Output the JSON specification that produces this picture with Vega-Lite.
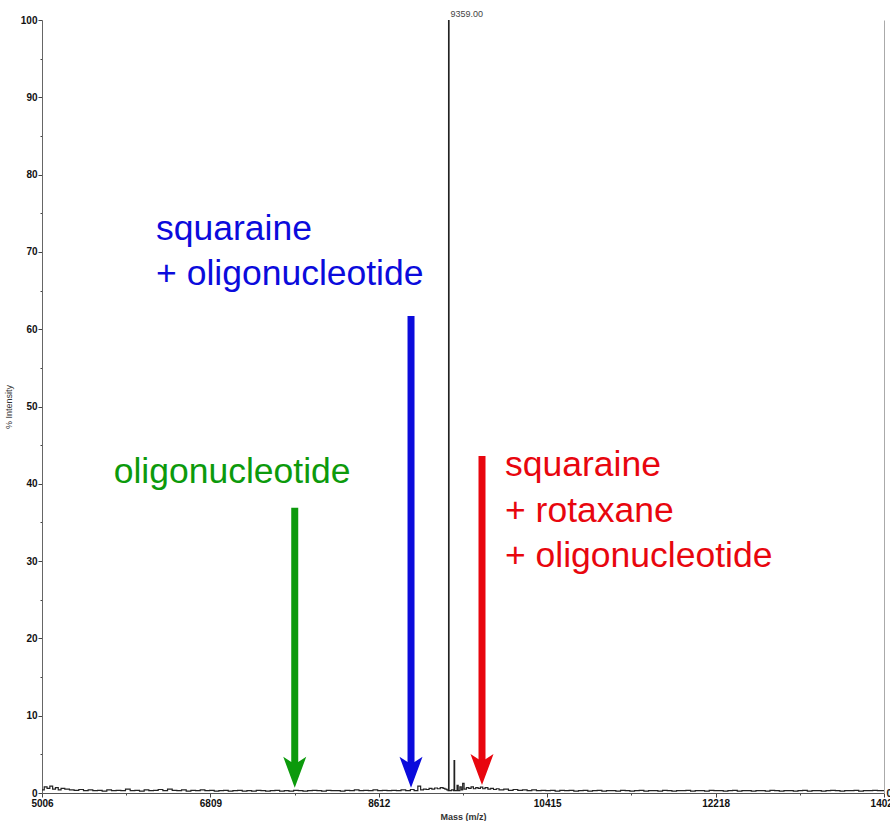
{
  "$schema": "https://vega.github.io/schema/vega-lite/v6.json",
  "width": 842,
  "height": 773,
  "autosize": {"type": "none"},
  "padding": {"left": 42, "top": 20, "right": 6, "bottom": 28},
  "background": "white",
  "config": {
    "view": {"stroke": null},
    "font": "Liberation Sans"
  },
  "datasets": {
    "spectrum": [
      {"mz": 5006, "pct": 0.4}, {"mz": 5030, "pct": 0.8}, {"mz": 5060, "pct": 0.6}, {"mz": 5090, "pct": 0.9},
      {"mz": 5120, "pct": 0.5}, {"mz": 5150, "pct": 0.7}, {"mz": 5180, "pct": 0.4}, {"mz": 5210, "pct": 0.6},
      {"mz": 5250, "pct": 0.5}, {"mz": 5300, "pct": 0.4}, {"mz": 5350, "pct": 0.35}, {"mz": 5400, "pct": 0.45},
      {"mz": 5450, "pct": 0.3}, {"mz": 5500, "pct": 0.4}, {"mz": 5550, "pct": 0.3}, {"mz": 5600, "pct": 0.35},
      {"mz": 5650, "pct": 0.25}, {"mz": 5700, "pct": 0.4}, {"mz": 5750, "pct": 0.3}, {"mz": 5800, "pct": 0.35},
      {"mz": 5850, "pct": 0.3}, {"mz": 5900, "pct": 0.5}, {"mz": 5950, "pct": 0.3}, {"mz": 6000, "pct": 0.35},
      {"mz": 6050, "pct": 0.25}, {"mz": 6100, "pct": 0.4}, {"mz": 6150, "pct": 0.3}, {"mz": 6200, "pct": 0.35},
      {"mz": 6250, "pct": 0.45}, {"mz": 6300, "pct": 0.3}, {"mz": 6350, "pct": 0.5}, {"mz": 6400, "pct": 0.35},
      {"mz": 6450, "pct": 0.3}, {"mz": 6500, "pct": 0.4}, {"mz": 6550, "pct": 0.25}, {"mz": 6600, "pct": 0.35},
      {"mz": 6650, "pct": 0.3}, {"mz": 6700, "pct": 0.4}, {"mz": 6750, "pct": 0.3}, {"mz": 6800, "pct": 0.35},
      {"mz": 6850, "pct": 0.25}, {"mz": 6900, "pct": 0.3}, {"mz": 6950, "pct": 0.35}, {"mz": 7000, "pct": 0.25},
      {"mz": 7050, "pct": 0.3}, {"mz": 7100, "pct": 0.35}, {"mz": 7150, "pct": 0.25}, {"mz": 7200, "pct": 0.3},
      {"mz": 7250, "pct": 0.25}, {"mz": 7300, "pct": 0.35}, {"mz": 7350, "pct": 0.3}, {"mz": 7400, "pct": 0.25},
      {"mz": 7450, "pct": 0.3}, {"mz": 7500, "pct": 0.35}, {"mz": 7550, "pct": 0.25}, {"mz": 7600, "pct": 0.3},
      {"mz": 7650, "pct": 0.25}, {"mz": 7700, "pct": 0.35}, {"mz": 7750, "pct": 0.3}, {"mz": 7800, "pct": 0.25},
      {"mz": 7850, "pct": 0.3}, {"mz": 7900, "pct": 0.35}, {"mz": 7950, "pct": 0.3}, {"mz": 8000, "pct": 0.25},
      {"mz": 8050, "pct": 0.35}, {"mz": 8100, "pct": 0.3}, {"mz": 8150, "pct": 0.3}, {"mz": 8200, "pct": 0.25},
      {"mz": 8250, "pct": 0.35}, {"mz": 8300, "pct": 0.3}, {"mz": 8350, "pct": 0.4}, {"mz": 8400, "pct": 0.3},
      {"mz": 8450, "pct": 0.35}, {"mz": 8500, "pct": 0.3}, {"mz": 8550, "pct": 0.4}, {"mz": 8600, "pct": 0.3},
      {"mz": 8650, "pct": 0.35}, {"mz": 8700, "pct": 0.3}, {"mz": 8750, "pct": 0.35}, {"mz": 8800, "pct": 0.3},
      {"mz": 8850, "pct": 0.4}, {"mz": 8900, "pct": 0.3}, {"mz": 8950, "pct": 0.45}, {"mz": 8990, "pct": 0.3},
      {"mz": 9030, "pct": 0.9}, {"mz": 9060, "pct": 0.4}, {"mz": 9090, "pct": 0.5}, {"mz": 9120, "pct": 0.45},
      {"mz": 9150, "pct": 0.6}, {"mz": 9180, "pct": 0.5}, {"mz": 9210, "pct": 0.65}, {"mz": 9240, "pct": 0.55},
      {"mz": 9270, "pct": 0.7}, {"mz": 9300, "pct": 0.6}, {"mz": 9320, "pct": 0.5}, {"mz": 9340, "pct": 0.4},
      {"mz": 9354, "pct": 0.3}, {"mz": 9359, "pct": 100}, {"mz": 9364, "pct": 0.3}, {"mz": 9390, "pct": 0.4},
      {"mz": 9412, "pct": 0.3}, {"mz": 9418, "pct": 4.2}, {"mz": 9424, "pct": 0.3}, {"mz": 9450, "pct": 1.0},
      {"mz": 9462, "pct": 0.3}, {"mz": 9480, "pct": 0.8}, {"mz": 9495, "pct": 0.4}, {"mz": 9510, "pct": 1.25},
      {"mz": 9525, "pct": 0.5}, {"mz": 9550, "pct": 0.7}, {"mz": 9575, "pct": 0.6}, {"mz": 9600, "pct": 0.8},
      {"mz": 9625, "pct": 0.55}, {"mz": 9650, "pct": 0.7}, {"mz": 9675, "pct": 0.6}, {"mz": 9700, "pct": 0.75},
      {"mz": 9725, "pct": 0.55}, {"mz": 9750, "pct": 0.7}, {"mz": 9780, "pct": 0.5}, {"mz": 9810, "pct": 0.6},
      {"mz": 9840, "pct": 0.45}, {"mz": 9870, "pct": 0.55}, {"mz": 9900, "pct": 0.4}, {"mz": 9950, "pct": 0.5},
      {"mz": 10000, "pct": 0.35}, {"mz": 10050, "pct": 0.45}, {"mz": 10100, "pct": 0.35}, {"mz": 10150, "pct": 0.4},
      {"mz": 10200, "pct": 0.3}, {"mz": 10250, "pct": 0.4}, {"mz": 10300, "pct": 0.3}, {"mz": 10350, "pct": 0.35},
      {"mz": 10400, "pct": 0.3}, {"mz": 10450, "pct": 0.35}, {"mz": 10500, "pct": 0.25}, {"mz": 10550, "pct": 0.35},
      {"mz": 10600, "pct": 0.3}, {"mz": 10650, "pct": 0.35}, {"mz": 10700, "pct": 0.25}, {"mz": 10750, "pct": 0.3},
      {"mz": 10800, "pct": 0.35}, {"mz": 10850, "pct": 0.25}, {"mz": 10900, "pct": 0.3}, {"mz": 10950, "pct": 0.35},
      {"mz": 11000, "pct": 0.25}, {"mz": 11050, "pct": 0.3}, {"mz": 11100, "pct": 0.3}, {"mz": 11150, "pct": 0.25},
      {"mz": 11200, "pct": 0.35}, {"mz": 11250, "pct": 0.3}, {"mz": 11300, "pct": 0.25}, {"mz": 11350, "pct": 0.3},
      {"mz": 11400, "pct": 0.35}, {"mz": 11450, "pct": 0.25}, {"mz": 11500, "pct": 0.3}, {"mz": 11550, "pct": 0.3},
      {"mz": 11600, "pct": 0.25}, {"mz": 11650, "pct": 0.35}, {"mz": 11700, "pct": 0.3}, {"mz": 11750, "pct": 0.25},
      {"mz": 11800, "pct": 0.3}, {"mz": 11850, "pct": 0.3}, {"mz": 11900, "pct": 0.35}, {"mz": 11950, "pct": 0.25},
      {"mz": 12000, "pct": 0.3}, {"mz": 12050, "pct": 0.3}, {"mz": 12100, "pct": 0.25}, {"mz": 12150, "pct": 0.35},
      {"mz": 12200, "pct": 0.3}, {"mz": 12250, "pct": 0.3}, {"mz": 12300, "pct": 0.25}, {"mz": 12350, "pct": 0.3},
      {"mz": 12400, "pct": 0.35}, {"mz": 12450, "pct": 0.25}, {"mz": 12500, "pct": 0.3}, {"mz": 12550, "pct": 0.3},
      {"mz": 12600, "pct": 0.25}, {"mz": 12650, "pct": 0.3}, {"mz": 12700, "pct": 0.3}, {"mz": 12750, "pct": 0.25},
      {"mz": 12800, "pct": 0.35}, {"mz": 12850, "pct": 0.3}, {"mz": 12900, "pct": 0.25}, {"mz": 12950, "pct": 0.3},
      {"mz": 13000, "pct": 0.3}, {"mz": 13050, "pct": 0.25}, {"mz": 13100, "pct": 0.3}, {"mz": 13150, "pct": 0.35},
      {"mz": 13200, "pct": 0.25}, {"mz": 13250, "pct": 0.3}, {"mz": 13300, "pct": 0.3}, {"mz": 13350, "pct": 0.25},
      {"mz": 13400, "pct": 0.3}, {"mz": 13450, "pct": 0.35}, {"mz": 13500, "pct": 0.3}, {"mz": 13550, "pct": 0.25},
      {"mz": 13600, "pct": 0.3}, {"mz": 13650, "pct": 0.3}, {"mz": 13700, "pct": 0.35}, {"mz": 13750, "pct": 0.25},
      {"mz": 13800, "pct": 0.3}, {"mz": 13850, "pct": 0.3}, {"mz": 13900, "pct": 0.35}, {"mz": 13950, "pct": 0.3},
      {"mz": 14000, "pct": 0.3}, {"mz": 14021, "pct": 0.25}
    ],
    "peakLabel": [
      {"mz": 9359, "pct": 100, "label": "9359.00"}
    ],
    "arrows": [
      {"species": "oligonucleotide", "mz": 7712, "top": 36.9, "head": 2.68},
      {"species": "squaraine + oligonucleotide", "mz": 8957, "top": 61.7, "head": 2.68},
      {"species": "squaraine + rotaxane + oligonucleotide", "mz": 9717, "top": 43.6, "head": 3.03}
    ],
    "notes": [
      {"species": "oligonucleotide", "mz": 5774, "pct": 40.06, "text": "oligonucleotide"},
      {"species": "squaraine + oligonucleotide", "mz": 6227, "pct": 71.54, "text": "squaraine"},
      {"species": "squaraine + oligonucleotide", "mz": 6227, "pct": 65.72, "text": "+ oligonucleotide"},
      {"species": "squaraine + rotaxane + oligonucleotide", "mz": 9963, "pct": 41.01, "text": "squaraine"},
      {"species": "squaraine + rotaxane + oligonucleotide", "mz": 9963, "pct": 35.1, "text": "+ rotaxane"},
      {"species": "squaraine + rotaxane + oligonucleotide", "mz": 9963, "pct": 29.28, "text": "+ oligonucleotide"}
    ]
  },
  "layer": [
    {
      "data": {"name": "spectrum"},
      "mark": {"type": "line", "color": "#222", "strokeWidth": 1.2, "interpolate": "step-after", "clip": true},
      "encoding": {
        "x": {
          "field": "mz", "type": "quantitative",
          "scale": {"domain": [5006, 14021], "nice": false, "zero": false},
          "axis": {
            "title": "Mass (m/z)",
            "values": [5006, 5907.5, 6809, 7710.5, 8612, 9513.5, 10415, 11316.5, 12218, 13119.5, 14021],
            "format": "d",
            "labelExpr": "(datum.value - 5006) % 1803 == 0 ? datum.label : ''",
            "labelFont": "Liberation Sans", "labelFontSize": 10, "labelFontWeight": "bold", "labelColor": "#111",
            "labelPadding": 1, "labelFlush": false, "labelOverlap": false,
            "tickColor": "#444", "tickWidth": 1,
            "tickSize": {"condition": {"test": "(datum.value - 5006) % 1803 == 0", "value": 4}, "value": 2},
            "domainColor": "#555", "domainWidth": 1,
            "grid": false,
            "titleFont": "Liberation Sans", "titleFontSize": 9, "titleFontWeight": "bold", "titleColor": "#333",
            "titlePadding": 4
          }
        },
        "y": {
          "field": "pct", "type": "quantitative",
          "scale": {"domain": [0, 100], "nice": false},
          "axis": {
            "title": "% Intensity",
            "orient": "left",
            "values": [0, 5, 10, 15, 20, 25, 30, 35, 40, 45, 50, 55, 60, 65, 70, 75, 80, 85, 90, 95, 100],
            "format": "d",
            "labelExpr": "datum.value % 10 == 0 ? datum.label : ''",
            "labelFont": "Liberation Sans", "labelFontSize": 10, "labelFontWeight": "bold", "labelColor": "#111",
            "labelPadding": 1, "labelOverlap": false,
            "tickColor": "#444", "tickWidth": 1,
            "tickSize": {"condition": {"test": "datum.value % 10 == 0", "value": 4}, "value": 2},
            "domainColor": "#666", "domainWidth": 1,
            "grid": false,
            "titleFont": "Liberation Sans", "titleFontSize": 9, "titleFontWeight": "normal", "titleColor": "#333",
            "titlePadding": 7
          }
        }
      }
    },
    {
      "data": {"name": "peakLabel"},
      "mark": {"type": "text", "align": "left", "baseline": "bottom", "dx": 2, "dy": -1, "fontSize": 9, "font": "Liberation Sans", "color": "#444"},
      "encoding": {
        "x": {"field": "mz", "type": "quantitative", "scale": {"domain": [5006, 14021], "nice": false, "zero": false}},
        "y": {
          "field": "pct", "type": "quantitative",
          "scale": {"domain": [0, 100], "nice": false},
          "axis": {
            "orient": "right", "title": null, "values": [0], "format": "d",
            "ticks": false, "labelPadding": 2,
            "labelFont": "Liberation Sans", "labelFontSize": 10, "labelFontWeight": "bold", "labelColor": "#111",
            "domainColor": "#aaa", "domainWidth": 1, "grid": false
          }
        },
        "text": {"field": "label"}
      }
    },
    {
      "data": {"name": "arrows"},
      "mark": {"type": "rule", "strokeWidth": 7, "strokeCap": "butt"},
      "encoding": {
        "x": {"field": "mz", "type": "quantitative", "scale": {"domain": [5006, 14021], "nice": false, "zero": false}},
        "y": {"field": "top", "type": "quantitative", "scale": {"domain": [0, 100], "nice": false}, "axis": null},
        "y2": {"field": "head"},
        "color": {
          "field": "species", "type": "nominal", "legend": null,
          "scale": {
            "domain": ["oligonucleotide", "squaraine + oligonucleotide", "squaraine + rotaxane + oligonucleotide"],
            "range": ["#0c9a0c", "#0b0bdc", "#e8060e"]
          }
        }
      }
    },
    {
      "data": {"name": "arrows"},
      "mark": {
        "type": "point", "filled": true, "opacity": 1, "size": 529, "strokeWidth": 0,
        "shape": "M0,1.35L-1,-1.35L-0.3,-0.9L0.3,-0.9L1,-1.35Z"
      },
      "encoding": {
        "x": {"field": "mz", "type": "quantitative", "scale": {"domain": [5006, 14021], "nice": false, "zero": false}},
        "y": {"field": "head", "type": "quantitative", "scale": {"domain": [0, 100], "nice": false}, "axis": null},
        "color": {
          "field": "species", "type": "nominal", "legend": null,
          "scale": {
            "domain": ["oligonucleotide", "squaraine + oligonucleotide", "squaraine + rotaxane + oligonucleotide"],
            "range": ["#0c9a0c", "#0b0bdc", "#e8060e"]
          }
        }
      }
    },
    {
      "data": {"name": "notes"},
      "mark": {"type": "text", "align": "left", "baseline": "alphabetic", "font": "Liberation Sans", "fontSize": 35.5},
      "encoding": {
        "x": {"field": "mz", "type": "quantitative", "scale": {"domain": [5006, 14021], "nice": false, "zero": false}},
        "y": {"field": "pct", "type": "quantitative", "scale": {"domain": [0, 100], "nice": false}, "axis": null},
        "text": {"field": "text"},
        "color": {
          "field": "species", "type": "nominal", "legend": null,
          "scale": {
            "domain": ["oligonucleotide", "squaraine + oligonucleotide", "squaraine + rotaxane + oligonucleotide"],
            "range": ["#0c9a0c", "#0b0bdc", "#e8060e"]
          }
        }
      }
    }
  ],
  "resolve": {"axis": {"y": "independent"}}
}
